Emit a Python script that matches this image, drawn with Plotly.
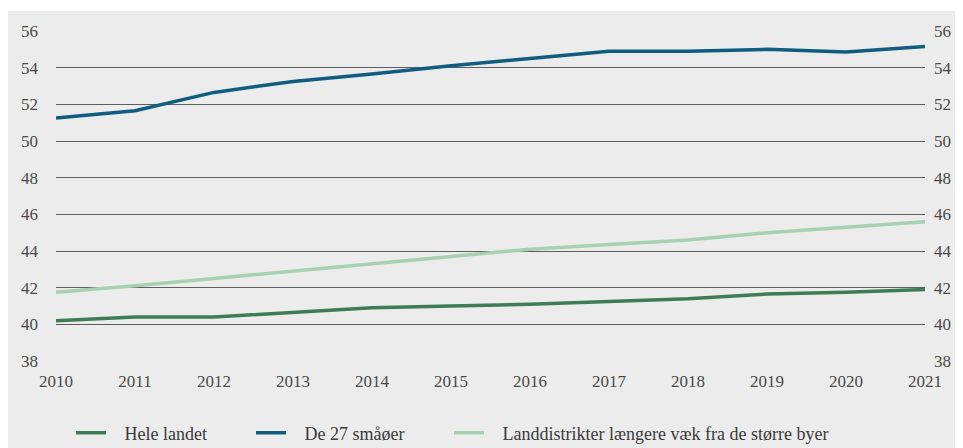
import plotly.graph_objects as go

years = list(range(2010, 2022))
hele_landet = [40.2, 40.4, 40.4, 40.65, 40.9, 41.0, 41.1, 41.25, 41.4, 41.65, 41.75, 41.9]
smaaoeer = [51.25, 51.65, 52.65, 53.25, 53.65, 54.1, 54.5, 54.9, 54.9, 55.0, 54.85, 55.15]
landdistrikter = [41.75, 42.1, 42.5, 42.9, 43.3, 43.7, 44.1, 44.35, 44.6, 45.0, 45.3, 45.6]
y_ticks = list(range(38, 57, 2))

series = [
    ("Hele landet", hele_landet, "#3f7c56", 135),
    ("De 27 småøer", smaaoeer, "#0f5d7f", 153),
    ("Landdistrikter længere væk fra de større byer", landdistrikter, "#a8d1b1", 360),
]

# page body adds an 8px margin, so the figure is slightly smaller than the window
W, H = 955, 440
M = dict(l=48, r=38, t=23, b=87)
BG = "#ececec"
TXT = "#4a4a4a"
FONT = "'Liberation Serif', 'Times New Roman', Times, serif"
PAD = "\u00a0\u00a0\u00a0"  # widen the gap between legend line and its label

fig = go.Figure()
for name, vals, color, lw in series:
    fig.add_trace(go.Scatter(x=years, y=vals, name=PAD + name, mode="lines", legendwidth=lw,
                             line=dict(color=color, width=3.5)))
# twin on the right axis so the mirrored tick labels are drawn
fig.add_trace(go.Scatter(x=years, y=hele_landet, yaxis="y2", mode="lines",
                         line=dict(color="rgba(0,0,0,0)"), showlegend=False,
                         hoverinfo="skip"))

pw = W - M["l"] - M["r"]
ph = H - M["t"] - M["b"]
# thin white strip above the grey panel
fig.add_shape(type="rect", xref="paper", yref="paper", layer="below",
              x0=-M["l"] / pw - 0.01, x1=1 + M["r"] / pw + 0.01,
              y0=1 + (M["t"] - 3) / ph, y1=1 + M["t"] / ph + 0.01,
              fillcolor="white", line_width=0)

yax = dict(range=[38, 56], tickvals=y_ticks, showgrid=True, gridcolor="#5e5e5e", gridwidth=1.4,
           zeroline=False, showline=False, ticks="", ticklabelstandoff=17,
           tickfont=dict(family=FONT, size=17, color=TXT))
fig.update_layout(
    width=W, height=H, margin=dict(M, autoexpand=False),
    paper_bgcolor=BG, plot_bgcolor=BG,
    font=dict(family=FONT, color=TXT),
    xaxis=dict(range=[2010, 2021], tickvals=years, showgrid=False, zeroline=False,
               showline=False, ticks="", ticklabelstandoff=8,
               tickfont=dict(family=FONT, size=17, color=TXT)),
    yaxis=yax,
    yaxis2=dict(yax, overlaying="y", side="right", showgrid=False, ticklabelstandoff=8),
    legend=dict(orientation="h", xref="container", x=63 / W, xanchor="left",
                yref="container", y=1 - 425 / H, yanchor="middle",
                font=dict(family=FONT, size=18, color="#3a3a3a"),
                bgcolor="rgba(0,0,0,0)", tracegroupgap=0),
    showlegend=True,
)

fig.write_html("out.html")
